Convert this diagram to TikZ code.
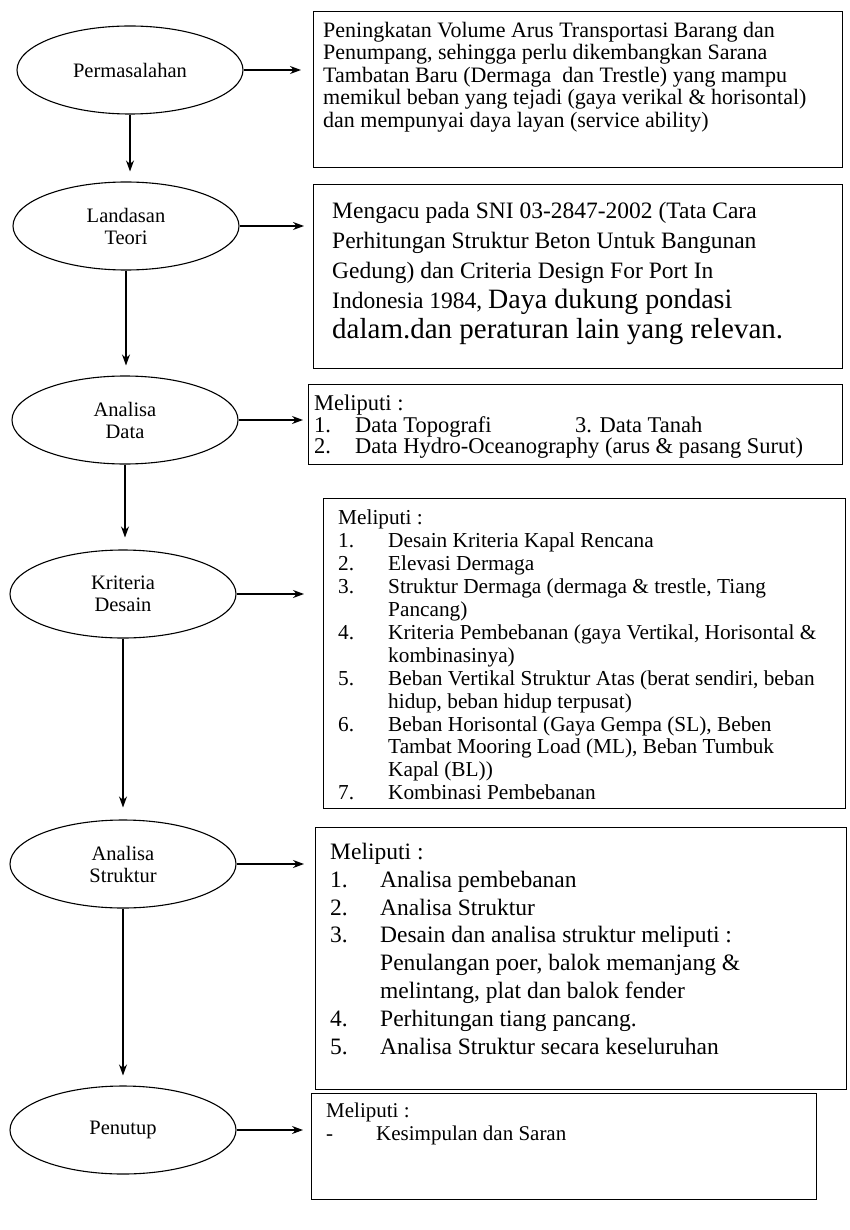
\documentclass[tikz,border=0pt]{standalone}
\usepackage{fontspec}
\setmainfont{Liberation Serif}
\usetikzlibrary{shapes.geometric,arrows.meta}

\newlength{\numwd}
\newcommand{\nomor}[2]{\makebox[\numwd][l]{#1}#2}
\newcommand{\lanjut}[1]{\hspace*{\numwd}#1}

\begin{document}
\begin{tikzpicture}[
  x=1pt, y=-1pt,
  every node/.style = {inner sep=0pt},
  tahap/.style = {shape=ellipse, draw, line width=1.1pt, minimum width=226pt,
    minimum height=88pt, align=center, font=\fontsize{20.5}{22}\selectfont},
  kotak/.style = {draw, line width=1.4pt, anchor=north west},
  isi/.style = {anchor=north west, align=left},
  panah/.style = {-{Stealth[length=11pt,width=8pt]}, line width=1.1pt}
  ]
  \useasboundingbox (0,0) rectangle (849,1230);

  % tahapan
  \node[tahap] (perm) at (130,70) {Permasalahan};
  \node[tahap] (land) at (126,226) {Landasan\\Teori};
  \node[tahap] (data) at (125,420) {Analisa\\Data};
  \node[tahap] (krit) at (123,594) {Kriteria\\Desain};
  \node[tahap] (strk) at (123,864) {Analisa\\Struktur};
  \node[tahap] (tutup) at (123,1130) {Penutup};

  % kotak keterangan
  \node[kotak, minimum width=529pt, minimum height=156pt] (b1) at (313,11) {};
  \node[kotak, minimum width=529pt, minimum height=184pt] (b2) at (313,184) {};
  \node[kotak, minimum width=534pt, minimum height=80pt] (b3) at (308,384) {};
  \node[kotak, minimum width=522pt, minimum height=310pt] (b4) at (323,498) {};
  \node[kotak, minimum width=531pt, minimum height=262pt] (b5) at (315,827) {};
  \node[kotak, minimum width=505pt, minimum height=106pt] (b6) at (311,1093) {};

  % isi kotak
  \node[isi, font=\fontsize{22}{22.5}\selectfont] (t1) at (323,22)
    {Peningkatan Volume Arus Transportasi Barang dan\\
     Penumpang, sehingga perlu dikembangkan Sarana\\
     Tambatan Baru (Dermaga\ \ dan Trestle) yang mampu\\
     memikul beban yang tejadi (gaya verikal \& horisontal)\\
     dan mempunyai daya layan (service ability)};
  \node[isi, font=\fontsize{23.5}{30}\selectfont] (t2) at (332,202)
    {Mengacu pada SNI 03-2847-2002 (Tata Cara\\
     Perhitungan Struktur Beton Untuk Bangunan\\
     Gedung) dan Criteria Design For Port In\\
     Indonesia 1984,\ \fontsize{28}{30}\selectfont Daya dukung pondasi\\
     \fontsize{29}{30}\selectfont dalam.dan peraturan lain yang relevan.};
  \node[isi, font=\fontsize{22.5}{21.5}\selectfont\setlength{\numwd}{41pt}] (t3) at (314,395)
    {Meliputi :\\
     \makebox[261pt][l]{\nomor{1.}{Data Topografi}}3. Data Tanah\\
     \nomor{2.}{Data Hydro-Oceanography (arus \& pasang Surut)}};
  \node[isi, font=\fontsize{21.3}{22.9}\selectfont\setlength{\numwd}{50pt}] (t4) at (338,510)
    {Meliputi :\\
     \nomor{1.}{Desain Kriteria Kapal Rencana}\\
     \nomor{2.}{Elevasi Dermaga}\\
     \nomor{3.}{Struktur Dermaga (dermaga \& trestle, Tiang}\\
     \lanjut{Pancang)}\\
     \nomor{4.}{Kriteria Pembebanan (gaya Vertikal, Horisontal \&}\\
     \lanjut{kombinasinya)}\\
     \nomor{5.}{Beban Vertikal Struktur Atas (berat sendiri, beban}\\
     \lanjut{hidup, beban hidup terpusat)}\\
     \nomor{6.}{Beban Horisontal (Gaya Gempa (SL), Beben}\\
     \lanjut{Tambat Mooring Load (ML), Beban Tumbuk}\\
     \lanjut{Kapal (BL))}\\
     \nomor{7.}{Kombinasi Pembebanan}};
  \node[isi, font=\fontsize{23.5}{27.8}\selectfont\setlength{\numwd}{50pt}] (t5) at (330,843)
    {Meliputi :\\
     \nomor{1.}{Analisa pembebanan}\\
     \nomor{2.}{Analisa Struktur}\\
     \nomor{3.}{Desain dan analisa struktur meliputi :}\\
     \lanjut{Penulangan poer, balok memanjang \&}\\
     \lanjut{melintang, plat dan balok fender}\\
     \nomor{4.}{Perhitungan tiang pancang.}\\
     \nomor{5.}{Analisa Struktur secara keseluruhan}};
  \node[isi, font=\fontsize{21}{23}\selectfont\setlength{\numwd}{50pt}] (t6) at (326,1103)
    {Meliputi :\\
     \nomor{-}{Kesimpulan dan Saran}};

  % panah ke kanan
  \draw[panah, shorten >=12pt] (perm) -- (perm -| b1.west);
  \draw[panah, shorten >=9pt] (land) -- (land -| b2.west);
  \draw[panah, shorten >=5pt] (data) -- (data -| b3.west);
  \draw[panah, shorten >=19pt] (krit) -- (krit -| b4.west);
  \draw[panah, shorten >=11pt] (strk) -- (strk -| b5.west);
  \draw[panah, shorten >=8pt] (tutup) -- (tutup -| b6.west);

  % panah ke bawah
  \draw[panah, shorten >=10pt] (perm.south) -- (perm.south |- land.north);
  \draw[panah, shorten >=10pt] (land.south) -- (land.south |- data.north);
  \draw[panah, shorten >=12pt] (data.south) -- (data.south |- krit.north);
  \draw[panah, shorten >=12pt] (krit.south) -- (krit.south |- strk.north);
  \draw[panah, shorten >=10pt] (strk.south) -- (strk.south |- tutup.north);

\end{tikzpicture}
\end{document}
